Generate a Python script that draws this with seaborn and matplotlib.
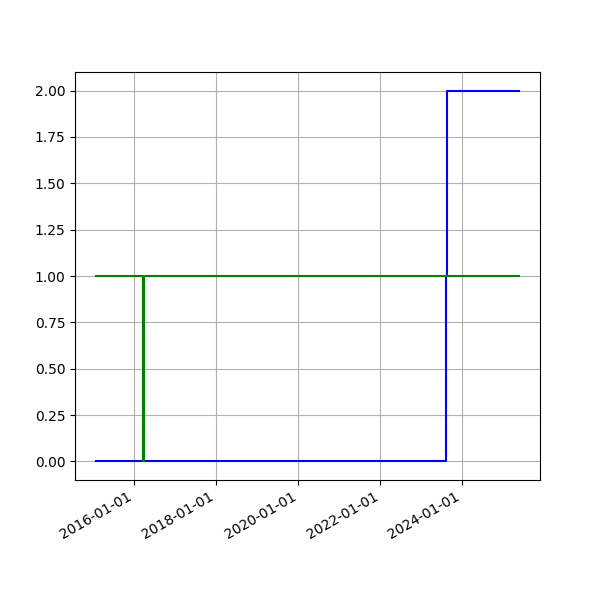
import pandas as pd
import matplotlib
matplotlib.use('Agg')
import matplotlib.pyplot as plt
import matplotlib.dates as mdates
import seaborn as sns

# Data
blue_dates = pd.to_datetime(['2015-01-25', '2023-08-12', '2023-08-20', '2025-05-20'])
blue_values = [0, 1, 2, 2]
green_dates = pd.to_datetime(['2015-01-25', '2016-03-14', '2016-03-23', '2025-05-20'])
green_values = [1, 0, 1, 1]

fig, ax = plt.subplots(figsize=(6, 6), dpi=100)

sns.lineplot(x=blue_dates, y=blue_values, ax=ax, color='b', drawstyle='steps-post',
             estimator=None, sort=False, linewidth=1.5)
sns.lineplot(x=green_dates, y=green_values, ax=ax, color='g', drawstyle='steps-post',
             estimator=None, sort=False, linewidth=1.5)

ax.xaxis.set_major_locator(mdates.YearLocator(2))
ax.xaxis.set_major_formatter(mdates.DateFormatter('%Y-%m-%d'))
ax.set_xlabel('')
ax.set_ylabel('')
ax.grid(True)
fig.autofmt_xdate()

plt.savefig('out.png', dpi=100)
